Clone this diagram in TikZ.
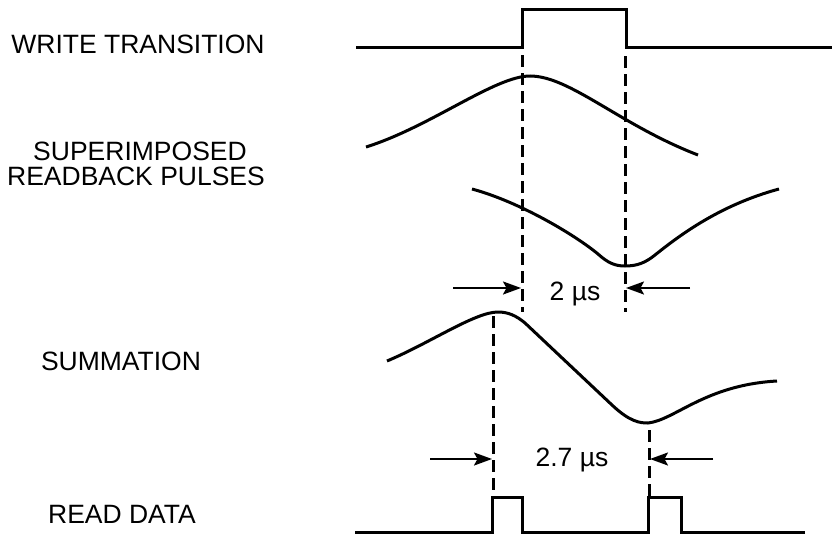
\documentclass[tikz,border=0pt]{standalone}
\usepackage{fontspec}
\setmainfont{Liberation Sans}
\usetikzlibrary{arrows.meta}
\begin{document}
\begin{tikzpicture}[x=1pt,y=-1pt,
  wave/.style={line width=3pt,line join=miter},
  guide/.style={line width=3pt,dash pattern=on 12pt off 6pt},
  dim/.style={line width=2.2pt,-{Stealth[length=18pt,width=13pt,inset=3.5pt]}},
  lbl/.style={font=\fontsize{26.5}{30}\selectfont,inner sep=0pt,anchor=base}]
\useasboundingbox (0,0) rectangle (832,538);
% labels
\node[lbl] (lwt) at (138,53) {WRITE TRANSITION};
\node[lbl] (lsp) at (140,160) {SUPERIMPOSED};
\node[lbl] (lrp) at (136,185) {READBACK PULSES};
\node[lbl] (lsu) at (121,370) {SUMMATION};
\node[lbl] (lrd) at (122,523) {READ DATA};
% write transition
\draw[wave] (356,47) -- (522,47) -- (522,9) -- (626,9) -- (626,47) -- (834,47);
% superimposed readback pulses
\draw[wave] (366,147) .. controls (430,127) and (495,76) .. (530,76)
            .. controls (570,76) and (620,125) .. (698,155);
\draw[wave] (472,189) .. controls (520,202) and (575,235) .. (598,254)
            .. controls (608,263) and (615,266) .. (625,266)
            .. controls (637,266) and (645,263) .. (655,255)
            .. controls (680,235) and (720,205) .. (779,189);
% summation
\draw[wave] (387,361) .. controls (430,343) and (475,312) .. (498,312)
            .. controls (508,312) and (516,315.5) .. (525,323)
            -- (612,405)
            .. controls (630,422) and (640,423) .. (648,423)
            .. controls (675,420) and (705,385) .. (777,381);
% read data
\draw[wave] (355,532) -- (492,532) -- (492,497) -- (522,497) -- (522,532) -- (648,532) -- (648,497) -- (681,497) -- (681,532) -- (805,532);
% guides
\coordinate (g1t) at (522,55); \coordinate (g1b) at (522,312);
\coordinate (g2t) at (625,56); \coordinate (g2b) at (625,312);
\coordinate (g3t) at (493,316); \coordinate (g3b) at (493,496);
\coordinate (g4t) at (649,430); \coordinate (g4b) at (649,496);
\draw[guide] (g1t) -- (g1b);
\draw[guide] (g2t) -- (g2b);
\draw[guide] (g3t) -- (g3b);
\draw[guide] (g4t) -- (g4b);
% dimension arrows
\coordinate (a1s) at (453,288); \coordinate (a1e) at (521,288);
\coordinate (a2s) at (690,288); \coordinate (a2e) at (626,288);
\coordinate (a3s) at (430,459); \coordinate (a3e) at (492,459);
\coordinate (a4s) at (713,459); \coordinate (a4e) at (650,459);
\draw[dim] (a1s) -- (a1e);
\draw[dim] (a2s) -- (a2e);
\draw[dim] (a3s) -- (a3e);
\draw[dim] (a4s) -- (a4e);
\node[lbl] (t2) at (575,300) {2 µs};
\node[lbl] (t27) at (572,466) {2.7 µs};
\end{tikzpicture}
\end{document}
